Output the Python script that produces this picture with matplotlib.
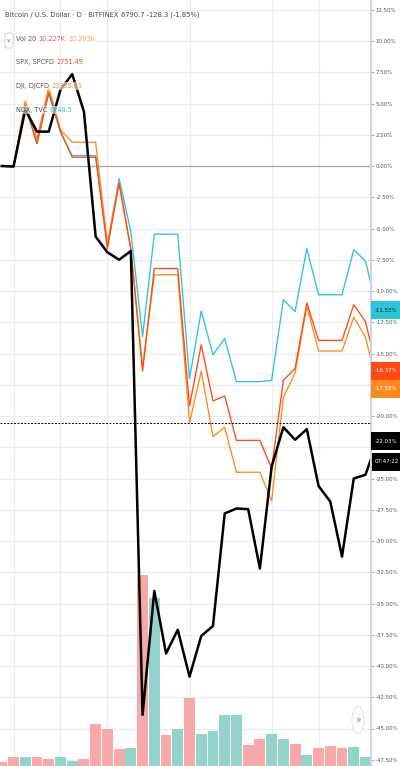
import numpy as np
import matplotlib
matplotlib.use("Agg")
import matplotlib.pyplot as plt
import matplotlib.transforms as mtransforms
from matplotlib.patches import Rectangle, Ellipse, FancyBboxPatch
from matplotlib import font_manager

# ---- data (percent change vs. start, daily, 29 Feb .. 1 Apr) ----
days = np.arange(33)
btc_pct = [0.0, -0.05, 4.5, 2.75, 2.75, 6.1, 7.35, 4.35, -5.65, -6.9, -7.5, -6.8,
           -43.9, -34.0, -39.0, -37.1, -40.85, -37.6, -36.8, -27.8, -27.4, -27.45,
           -32.2, -24.05, -20.9, -21.9, -21.05, -25.6, -26.85, -31.25, -25.0, -24.7, -22.03]
spx_pct = [0.0, 0.0, 4.8, 1.8, 5.9, 2.8, 0.7, 0.7, 0.7, -6.6, -1.4, -6.7,
           -16.4, -8.2, -8.2, -8.2, -19.2, -14.3, -18.8, -18.4, -21.95, -21.95,
           -21.95, -24.2, -17.15, -16.2, -10.95, -13.95, -13.95, -13.95, -11.1, -12.45, -16.37]
dji_pct = [0.0, 0.0, 5.2, 2.2, 6.3, 2.9, 1.9, 1.9, 1.9, -6.2, -1.3, -6.6,
           -16.1, -8.7, -8.7, -8.7, -20.55, -16.4, -21.65, -20.9, -24.5, -24.5,
           -24.5, -26.8, -18.5, -16.55, -11.2, -14.8, -14.8, -14.8, -12.1, -13.7, -17.58]
ndx_pct = [0.0, 0.0, 4.9, 1.8, 5.8, 2.7, 0.83, 0.83, 0.83, -6.3, -1.0, -5.25,
           -13.65, -5.45, -5.45, -5.45, -17.0, -11.6, -15.1, -13.8, -17.25, -17.25,
           -17.25, -17.15, -10.7, -11.65, -6.6, -10.3, -10.3, -10.3, -6.7, -7.6, -11.53]
vol_k = [2.2, 4.5, 4.5, 4.5, 3.5, 4.5, 2.7, 3.7, 21.0, 18.5, 8.5, 9.0,
         95.7, 84.2, 15.4, 18.5, 34.2, 16.0, 17.4, 25.5, 25.5, 10.7, 13.4, 16.0,
         13.7, 11.0, 5.5, 8.9, 10.0, 8.9, 9.7, 4.5]
vol_up = [0, 0, 1, 0, 0, 1, 1, 0, 0, 0, 0, 1, 0, 1, 0, 1, 0, 1, 1, 1, 1, 0, 0, 1,
          1, 0, 1, 0, 0, 0, 1, 1]
grid_days = [1, 5, 9, 16, 23, 27]
pct_ticks = np.arange(-47.5, 12.6, 2.5)
crosshair = -20.55

C_BTC = "#000000"
C_SPX = "#FF4A14"
C_DJI = "#FF8A1F"
C_NDX = "#2BC4D8"
C_UP = "#93D3CC"
C_DN = "#F6A9A8"
TXT = "#50535e"

names = {f.name for f in font_manager.fontManager.ttflist}
if "Liberation Sans Narrow" in names:
    plt.rcParams["font.family"] = ["Liberation Sans Narrow", "DejaVu Sans"]
else:
    plt.rcParams["font.family"] = ["DejaVu Sans"]
    plt.rcParams["font.stretch"] = "condensed"


def pct_fmt(v):
    return f"{v:.2f}%"


W, H = 400, 766
fig = plt.figure(figsize=(W / 100, H / 100), dpi=100)
fig.patch.set_facecolor("white")
rect = [0, 0, 371 / W, 1]
xlim = (-0.153, 31.47)
ylim = (-48.0, 13.28)

# background grid
ax_bg = fig.add_axes(rect, zorder=0)
ax_bg.set_xlim(xlim)
ax_bg.set_ylim(ylim)
ax_bg.set_xticks(grid_days)
ax_bg.set_yticks(pct_ticks)
ax_bg.grid(True, color="#e7eef4", lw=0.9)
ax_bg.tick_params(length=0, labelbottom=False, labelleft=False)
for s in ax_bg.spines.values():
    s.set_visible(False)
ax_bg.axhline(0, color="#a3a6af", lw=0.9)

# volume
vol_ax = fig.add_axes(rect, zorder=1)
vol_ax.patch.set_alpha(0)
vol_ax.bar(days[:len(vol_k)], vol_k, width=0.93,
           color=[C_UP if u else C_DN for u in vol_up])
vol_ax.set_xlim(xlim)
vol_ax.set_ylim(0, max(vol_k) * 4.0)
vol_ax.axis("off")

# price lines
ax = fig.add_axes(rect, zorder=2)
ax.patch.set_alpha(0)
ax.plot(days, ndx_pct, color=C_NDX, lw=0.95)
ax.plot(days, dji_pct, color=C_DJI, lw=0.95)
ax.plot(days, spx_pct, color=C_SPX, lw=0.95)
ax.plot(days, btc_pct, color=C_BTC, lw=1.8)
ax.axhline(crosshair, color="black", lw=0.7, ls=(0, (2, 1.5)))
ax.set_xlim(xlim)
ax.set_ylim(ylim)
ax.set_xticks([])
ax.yaxis.tick_right()
ax.set_yticks(pct_ticks)
ax.set_yticklabels([pct_fmt(v) for v in pct_ticks])
ax.tick_params(axis="y", length=2.5, width=0.6, color="#9aa0aa", labelsize=5,
               labelcolor=TXT, pad=1.0)
for k in ["top", "left", "bottom"]:
    ax.spines[k].set_visible(False)
ax.spines["right"].set_color("#d1d4dc")
ax.spines["right"].set_linewidth(1.5)

# shrink the price-scale font until the widest label fits
renderer = fig.canvas.get_renderer()
size = 5.0
for _ in range(10):
    ext = [t.get_window_extent(renderer) for t in ax.get_yticklabels()]
    right = max(e.x1 for e in ext)
    if right <= W - 1:
        break
    size *= (W - 1 - min(e.x0 for e in ext)) / max(e.width for e in ext) * 0.98
    ax.tick_params(axis="y", labelsize=size)

# last value labels on the price scale
box_h = 1.44
trans = mtransforms.blended_transform_factory(ax.transAxes, ax.transData)
labels = [(ndx_pct[-1], C_NDX, "#131722"), (spx_pct[-1], C_SPX, "white"),
          (dji_pct[-1], C_DJI, "white"), (btc_pct[-1], "#000000", "white")]
box_pos = []
prev = None
for val, fc, tc in labels:
    pos = val
    if prev is not None and pos > prev - box_h:
        pos = prev - box_h
    prev = pos
    box_pos.append(pos)
    ax.add_patch(Rectangle((1.0, pos - box_h / 2), W / 371 - 1.0, box_h,
                           transform=trans, fc=fc, ec="none", clip_on=False, zorder=5))
    ax.text(1.041, pos, pct_fmt(val), transform=trans,
            color=tc, fontsize=min(size, 4.8), ha="center", va="center", zorder=6, clip_on=False)
timer_pos = btc_pct[-1] - 1.62
box_pos.append(timer_pos)
ax.add_patch(Rectangle((1.004, timer_pos - box_h / 2), W / 371 - 1.004, box_h,
                       transform=trans, fc="#000000", ec="none", clip_on=False, zorder=5))
ax.text(1.042, timer_pos, "07:47:22", transform=trans, color="white", fontsize=min(size, 4.8),
        ha="center", va="center", zorder=6, clip_on=False)

# tick labels sitting fully under a value box are hidden by it
for v, t in zip(pct_ticks, ax.get_yticklabels()):
    if any(abs(v - p) < box_h / 2 for p in box_pos):
        t.set_visible(False)


# legend rows
def legend_row(y_px, x_px, parts, fs=5.2, gap=2.5):
    x = x_px
    for s, c in parts:
        t = fig.text(x / W, 1 - y_px / H, s, color=c, fontsize=fs, ha="left", va="center",
                     bbox=dict(boxstyle="square,pad=0.15", fc="white", ec="none", alpha=0.6))
        x += t.get_window_extent(renderer).width + gap


legend_row(15, 5, [("Bitcoin / U.S. Dollar \u00b7 D \u00b7 BITFINEX", "#434651"),
                   ("6790.7 -128.3 (-1.85%)", "#434651")], fs=5.4)
legend_row(39, 16, [("Vol 20", TXT), ("10.227K", "#EF5350"), ("10.293K", "#FFA552")])
legend_row(62, 16, [("SPX, SPCFD", TXT), ("2751.49", C_SPX)])
legend_row(86, 16, [("DJI, DJCFD", TXT), ("23335.81", C_DJI)])
legend_row(110, 16, [("NDX, TVC", TXT), ("8240.5", C_NDX)])

fig.add_artist(FancyBboxPatch((5 / 100, (H - 48) / 100), 0.08, 0.15,
                              boxstyle="round,pad=0,rounding_size=0.02",
                              transform=fig.dpi_scale_trans, fc="white", ec="#c8cbd3", lw=0.6))
fig.text(9 / W, 1 - 40 / H, "v", fontsize=4.5, color=TXT, ha="center", va="center")

# scroll button
fig.add_artist(Ellipse((3.58, (H - 720) / 100), 0.12, 0.27, transform=fig.dpi_scale_trans,
                       fc="white", ec="#e3e5ea", lw=0.8, zorder=4))
fig.text(358 / W, 1 - 720 / H, "\u00bb", fontsize=7, color="#787b86",
         ha="center", va="center", zorder=5)

fig.savefig("out.png", dpi=100, facecolor="white")
